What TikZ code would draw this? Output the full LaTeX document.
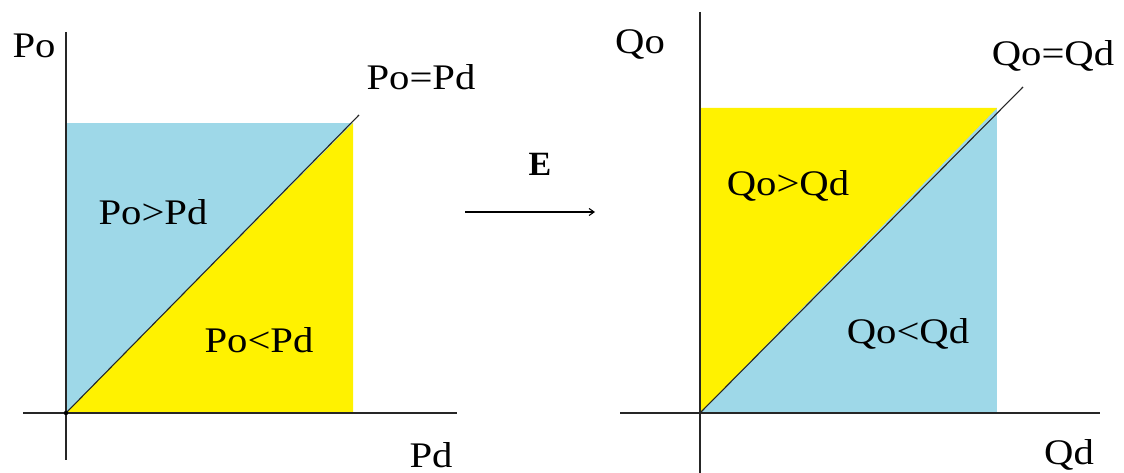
\documentclass[tikz,border=0pt]{standalone}
\usepackage{fontspec}
\setmainfont{Liberation Serif}
\usetikzlibrary{arrows.meta}
\definecolor{cblue}{RGB}{158,216,232}
\definecolor{cyel}{RGB}{255,242,0}
\newcommand\widetxt[1]{\scalebox{1.13}[1]{#1}}
\tikzset{
  axis/.style={line width=1.6pt, black!85},
  diag/.style={line width=1.1pt, black!85},
  lbl/.style={inner sep=0pt, font=\fontsize{36}{40}\selectfont},
}
\begin{document}
\begin{tikzpicture}[x=1pt,y=-1pt]
\useasboundingbox (0,0) rectangle (1124,473);
% left panel
\fill[cblue] (66,123) rectangle (353,413);
\fill[cyel] (66,413) -- (353,123) -- (353,413) -- cycle;
\coordinate (lo) at (66,413);
\coordinate (ld) at (359,115);
\coordinate (lyt) at (66,32);
\coordinate (lyb) at (66,460);
\coordinate (lxl) at (23,413);
\coordinate (lxr) at (457,413);
\draw[axis] (lyt) -- (lyb);
\draw[axis] (lxl) -- (lxr);
\draw[diag] (lo) -- (ld);
\fill (lo) circle (2.2);
\node[lbl] (po) at (34,46) {\widetxt{Po}};
\node[lbl] (poeq) at (421,77) {\widetxt{Po=Pd}};
\node[lbl] (pogt) at (153,212) {\widetxt{Po>Pd}};
\node[lbl] (polt) at (259,340) {\widetxt{Po<Pd}};
\node[lbl] (pd) at (431,455) {\widetxt{Pd}};
% arrow
\coordinate (a1) at (465,212);
\coordinate (a2) at (595,212);
\draw[line width=1.1pt, -{Straight Barb[length=5pt,width=7pt]}] (a1) -- (a2);
\node[lbl, font=\fontsize{34}{40}\selectfont\bfseries] (E) at (540,164) {E};
% right panel
\fill[cblue] (700,108) rectangle (997,413);
\fill[cyel] (700,413) -- (997,108) -- (700,108) -- cycle;
\coordinate (ro) at (700,413);
\coordinate (rd) at (1023,87);
\coordinate (ryt) at (700,12);
\coordinate (ryb) at (700,473);
\coordinate (rxl) at (620,413);
\coordinate (rxr) at (1100,413);
\draw[axis] (ryt) -- (ryb);
\draw[axis] (rxl) -- (rxr);
\draw[diag] (ro) -- (rd);
\node[lbl] (qo) at (640,45) {\widetxt{Qo}};
\node[lbl] (qoeq) at (1053,56) {\widetxt{Qo=Qd}};
\node[lbl] (qogt) at (788,186) {\widetxt{Qo>Qd}};
\node[lbl] (qolt) at (908,334) {\widetxt{Qo<Qd}};
\node[lbl] (qd) at (1069,455) {\widetxt{Qd}};
\end{tikzpicture}
\end{document}
